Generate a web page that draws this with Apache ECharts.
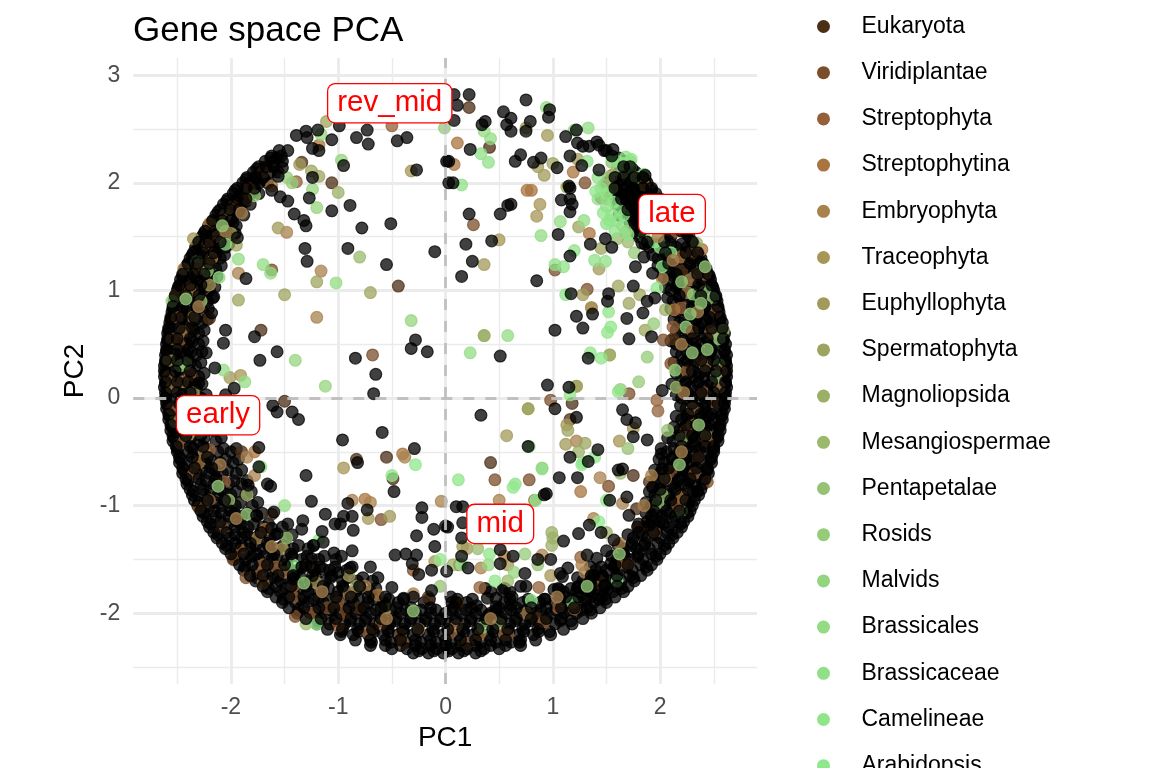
<!DOCTYPE html>
<html><head><meta charset="utf-8">
<script src="https://cdn.jsdelivr.net/npm/echarts@6/dist/echarts.min.js"></script>
<style>html,body{margin:0;padding:0;background:#fff}#c{width:1152px;height:768px}</style></head>
<body><div id="c"></div>
<script>
const majorX=[-2,-1,0,1,2];
const minorX=[-2.5,-1.5,-0.5,0.5,1.5,2.5];
const majorY=[-2,-1,0,1,2,3];
const minorY=[-2.5,-1.5,-0.5,0.5,1.5,2.5];
const cladeNames=["Eukaryota","Viridiplantae","Streptophyta","Streptophytina","Embryophyta","Traceophyta","Euphyllophyta","Spermatophyta","Magnoliopsida","Mesangiospermae","Pentapetalae","Rosids","Malvids","Brassicales","Brassicaceae","Camelineae","Arabidopsis"];
const cladeColors=["#4b2e14","#7a4e2a","#93603a","#a8743f","#a8824d","#a69657","#a29a5a","#9da45f","#9caf67","#9bb96d","#97c273","#96cb79","#95d47e","#93dc83","#90e088","#90e58a","#90e88c"];
const labelNames=["rev_mid","late","early","mid"];
const labelX=[-0.52,2.11,-2.12,0.51];
const labelY=[2.74,1.71,-0.16,-1.17];

// dark (unnamed root clade) scattered inside the ring
const rootInner=[[-.99,2.53],[-.83,2.42],[-.73,2.49],[-.72,2.36],[-.45,2.39],[-.36,2.42],[-1.06,2.4],[-1.29,2.42],[-1.3,2.48],[-1.39,2.44],[-1.19,2.49],[-1.24,2.32],[-1.18,2.3],[-.95,2.16],[-1.52,2.14],[-1.56,2.06],[-1.24,2.05],[-1.62,1.93],[-1.54,1.87],[-1.47,1.83],[-1.41,1.71],[-1.32,1.65],[-1.3,1.6],[-1.27,1.86],[-1.06,1.74],[-.89,1.79],[-.78,1.58],[-.51,1.62],[-.27,2.12],[.01,2.2],[.03,2],[-1.31,1.39],[-.91,1.39],[-1.29,1.27],[-.55,1.24],[-.1,1.36],[-1.86,1.11],[-1.94,1.49],[-2.05,.63],[-2.07,.51],[-1.78,.57],[-1.57,.43],[-1.73,.35],[-.84,.37],[-.65,.22],[-.32,.46],[-.28,.54],[-.17,.43],[-.67,.04],[-2.15,.28],[-2.3,.14],[-1.97,.09],[-2.05,.03],[-2.16,.94],[-2.18,.79],[-2.23,.42],
[.08,2.82],[.22,2.82],[.11,2.72],[.08,2.58],[.37,2.57],[.34,2.54],[.54,2.66],[.61,2.6],[.57,2.54],[.61,2.48],[.75,2.77],[.79,2.57],[.75,2.48],[.97,2.68],[.96,2.61],[1.12,2.43],[1.22,2.49],[1.23,2.37],[1.28,2.34],[1.34,2.34],[1.41,2.38],[1.43,2.35],[1.48,2.3],[1.56,2.31],[.23,2.31],[.7,2.26],[.65,2.2],[.82,2.19],[.89,2.23],[1.04,2.14],[1.16,2.25],[1.27,2.16],[1.43,2.12],[.07,2],[1.15,1.97],[1.16,1.95],[1.08,1.84],[1.16,1.85],[1.18,1.8],[1.16,1.73],[.61,1.8],[.58,1.79],[.22,1.71],[.51,1.71],[1.05,1.52],[.19,1.43],[.43,1.46],[.25,1.27],[.15,1.13],[.85,1.09],[1.16,1.32],[1.35,1.43],[1.55,1.4],[1.49,1.48],[1.77,1.22],[1.75,1.04],[1.17,.97],[1.52,.97],[1.51,.9],[1.88,.9],[1.84,.79],[1.95,.93],[1.22,.76],[1.37,.78],[1.69,.74],[1.28,.65],[1.02,.63],[1.71,.55],[1.92,.57],[.51,.39],[1.33,.37],[.95,.12],[1.15,.1],[2.02,.07],[.03,2.2],[1.86,2.07],[1.83,1.44],[1.85,1.31],[1.93,1.16],
[-1.61,-.07],[-1.57,-.13],[-1.43,-.13],[-1.37,-.2],[-.59,-.32],[-.96,-.39],[-.29,-.47],[-.82,-.6],[-1.74,-.46],[-1.74,-.64],[-1.3,-.72],[-1.84,-.81],[-1.63,-.82],[-1.66,-.8],[-.48,-.87],[-1.25,-.96],[-.91,-.98],[-.22,-1.02],[-.22,-1.11],[-.73,-1.04],[-1.12,-1.08],[-.87,-1.1],[-.95,-1.1],[-1.03,-1.17],[-.98,-1.17],[-1.33,-1.14],[-.86,-1.23],[-1.34,-1.22],[-1.15,-1.24],[-.27,-1.28],[-.11,-1.22],[0,-1.19],[-.1,-1.38],[-.87,-1.42],[-1.04,-1.44],[-1.14,-1.34],[-1.23,-1.37],[-.37,-1.45],[-.47,-1.46],[-.27,-1.46],[-.31,-1.54],[-.13,-1.6],[.01,-1.61],[-.25,-1.64],[-.5,-1.76],[-.3,-1.85],[-.13,-1.79],[-.39,-1.86],[-.56,-1.93],[-.7,-1.57],[-.89,-1.58],[-1,-1.62],[-1.14,-1.59],[-1.25,-1.49],[-1.25,-1.57],[-1.34,-1.57],[-1.42,-1.68],[-1.6,-1.06],[-1.62,-1.21],[-1.76,-1.09],[-1.57,-1.26],
[.33,-.16],[1.02,-.1],[1.65,-.11],[1.69,-.2],[1.77,-.23],[1.22,-.18],[.77,-.45],[1.16,-.55],[1.33,-.59],[1.42,-.48],[1.75,-.36],[1.88,-.39],[2.01,-.52],[1.06,-.74],[1.23,-.74],[1.61,-.67],[1.65,-.66],[1.93,-.83],[2.02,-.66],[.94,-.89],[.92,-.9],[.1,-1.01],[.16,-1.01],[1.69,-.92],[1.53,-.95],[.02,-1.2],[.16,-1.16],[.15,-1.3],[1.34,-1.18],[1.24,-1.26],[1.45,-1.25],[1.1,-1.33],[1.57,-1.32],[1.5,-1.42],[1.32,-1.46],[1.41,-1.49],[1.54,-1.54],[1.79,-1.2],[1.9,-1.18],[1.71,-1.09],[.51,-1.41],[.63,-1.47],[.86,-1.5],[.98,-1.5],[.51,-1.54],[.15,-1.47],[.21,-1.58],[.74,-1.63],[.7,-1.75],[.75,-1.75],[1.07,-1.63],[1.09,-1.66],[1.14,-1.58],[1.38,-1.65],[1.35,-1.7],[1.23,-1.76],[1.01,-1.78],[1.06,-1.78],[1.34,-1.79],[1.49,-1.74],[.53,-1.79],[.47,-1.86],[.39,-1.86],[.61,-1.92],[.92,-1.87],[.1,-1.9],[.29,-1.93],[.47,-1.94],[.4,-2.02]];

// dense ring, read row by row: first number is PC2, the rest PC1
const rootRingUnder=[[2.3,-1.55,-1.47,1.5],[2.2,-1.68,-1.6,-1.52,1.6,1.67],[2.1,-1.79,-1.72,-1.63,-1.56,1.62,1.7,1.77],[2,-1.89,-1.82,-1.74,-1.66,1.5,1.6,1.72,1.8,1.88],[1.9,-1.98,-1.9,-1.82,-1.74,1.55,1.63,1.7,1.78,1.88,1.96],[1.8,-2.07,-1.99,-1.9,-1.82,1.6,1.68,1.76,1.85,2.05],[1.7,-2.14,-2.06,-1.97,-1.88,1.62,1.72,1.8,2.1],[1.6,-2.21,-2.12,-2.03,-1.95,1.75,2.2],[1.5,-2.27,-2.18,-2.1,-2,1.8,2.1,2.27],[1.4,-2.33,-2.24,-2.15,-2.05,1.9,2,2.15,2.25,2.33],[1.3,-2.38,-2.3,-2.2,-2.1,1.98,2.08,2.18,2.3,2.38],[1.2,-2.43,-2.34,-2.25,-2.14,2.02,2.12,2.22,2.33,2.43],[1.1,-2.47,-2.38,-2.28,-2.18,2.08,2.18,2.28,2.38,2.47],[1,-2.5,-2.4,-2.3,-2.2,2.1,2.2,2.3,2.4,2.5],[.9,-2.53,-2.44,-2.33,-2.22,2.12,2.23,2.34,2.44,2.53],[.8,-2.55,-2.46,-2.36,-2.26,2.15,2.25,2.36,2.46,2.55],[.7,-2.57,-2.48,-2.38,-2.27,2.18,2.28,2.38,2.48,2.58],[.6,-2.59,-2.5,-2.4,-2.3,2.2,2.3,2.4,2.5,2.6],[.5,-2.6,-2.51,-2.41,-2.3,2.15,2.26,2.38,2.5,2.61],[.4,-2.61,-2.52,-2.42,-2.32,2.2,2.3,2.4,2.52,2.62],[.3,-2.62,-2.53,-2.43,-2.33,2.18,2.28,2.4,2.52,2.62],[.2,-2.62,-2.52,-2.42,-2.3,2.2,2.32,2.42,2.53,2.62],[.1,-2.62,-2.52,-2.4,-2.32,2.16,2.28,2.4,2.52,2.62],[0,-2.61,-2.5,-2.4,-2.28,2.2,2.3,2.42,2.52,2.61],[-.1,-2.6,-2.5,-2.38,-2.28,2.24,2.36,2.48,2.6],[-.2,-2.58,-2.47,-2.36,-2.22,2.2,2.3,2.42,2.5,2.58],[-.3,-2.56,-2.45,-2.32,-2.18,2.18,2.28,2.38,2.48,2.56],[-.4,-2.54,-2.42,-2.3,-2.14,2.12,2.24,2.34,2.44,2.54],[-.5,-2.5,-2.4,-2.28,-2.12,-2,2.06,2.18,2.3,2.42,2.5],[-.6,-2.48,-2.36,-2.24,-2.1,-1.98,2.04,2.16,2.28,2.38,2.48],[-.7,-2.45,-2.32,-2.2,-2.08,-1.95,2,2.14,2.26,2.36,2.45],[-.8,-2.41,-2.28,-2.16,-2.02,-1.9,2,2.12,2.22,2.32,2.4],[-.9,-2.36,-2.24,-2.12,-2,-1.86,1.95,2.08,2.2,2.36],[-1,-2.31,-2.2,-2.08,-1.96,-1.8,1.92,2.04,2.16,2.3],[-1.1,-2.26,-2.14,-2.02,-1.9,-1.76,1.92,2.02,2.14,2.26],[-1.2,-2.2,-2.08,-1.96,-1.84,-1.7,-1.52,1.85,1.98,2.08,2.2],[-1.3,-2.13,-2.01,-1.9,-1.78,-1.64,-1.48,1.75,1.88,2,2.12],[-1.4,-2.05,-1.95,-1.82,-1.7,-1.56,-1.42,-1.28,1.66,1.78,1.9,2.05],[-1.5,-1.97,-1.86,-1.74,-1.62,-1.48,-1.34,-1.18,-1.02,1.6,1.72,1.84,1.97],[-1.6,-1.88,-1.76,-1.64,-1.52,-1.38,-1.22,-1.08,-.92,1.4,1.5,1.62,1.74,1.88],[-1.7,-1.77,-1.66,-1.54,-1.4,-1.26,-1.12,-.96,-.82,-.68,1.28,1.4,1.52,1.64,1.76],[-1.8,-1.66,-1.54,-1.42,-1.28,-1.14,-1,-.84,-.7,.42,.6,1.1,1.22,1.34,1.46,1.56,1.66],[-1.9,-1.52,-1.4,-1.28,-1.14,-1,-.86,-.72,-.58,-.44,-.2,.06,.2,.55,.72,.88,1.02,1.14,1.26,1.38,1.5],[-2,-1.38,-1.26,-1.12,-.98,-.84,-.7,-.56,-.42,-.28,-.14,0,.14,.28,.42,.56,.7,.84,.98,1.1,1.22,1.36],[-2.1,-1.2,-1.08,-.94,-.8,-.66,-.52,-.38,-.24,-.1,.04,.18,.32,.46,.6,.74,.88,1.02,1.18],[-2.2,-.98,-.86,-.72,-.58,-.44,-.3,-.16,-.02,.12,.26,.4,.54,.68,.82,.98],[-2.3,-.7,-.56,-.42,-.28,-.14,0,.14,.28,.42,.56,.7],[-2.37,-.3,-.16,-.02,.12,.28]];
const rootRingMid=[[2.23,-1.63,-1.57,1.62],[2.13,-1.76,-1.68,1.67,1.74],[2.03,-1.86,-1.78,-1.69,1.55,1.65,1.76,1.86],[1.93,-1.96,-1.86,-1.78,1.6,1.67,1.74,1.83,1.92],[1.83,-2.04,-1.95,-1.86,1.65,1.72,1.81,1.95,2.03],[1.73,-2.12,-2.02,-1.93,1.66,1.76,1.84,2.12],[1.63,-2.18,-2.08,-1.98,1.72,1.8,2.18],[1.53,-2.25,-2.14,-2.05,-1.96,1.78,2.08,2.25],[1.43,-2.31,-2.2,-2.1,-2.02,1.86,1.96,2.1,2.2,2.31],[1.33,-2.36,-2.25,-2.14,-2.06,1.93,2.03,2.13,2.25,2.36],[1.23,-2.41,-2.3,-2.2,-2.09,1.98,2.07,2.17,2.28,2.41],[1.13,-2.45,-2.33,-2.23,-2.13,2.03,2.13,2.23,2.34,2.46],[1.03,-2.49,-2.35,-2.25,-2.15,2.05,2.15,2.25,2.35,2.49],[.93,-2.52,-2.39,-2.28,-2.17,2.07,2.18,2.29,2.39,2.52],[.83,-2.54,-2.41,-2.31,-2.21,2.1,2.2,2.31,2.41,2.54],[.73,-2.56,-2.43,-2.33,-2.22,2.13,2.23,2.33,2.43,2.56],[.63,-2.58,-2.45,-2.35,-2.25,2.15,2.25,2.35,2.45,2.58],[.53,-2.59,-2.46,-2.36,-2.26,2.1,2.21,2.33,2.45,2.59],[.43,-2.6,-2.47,-2.37,-2.27,2.15,2.25,2.35,2.47,2.6],[.33,-2.61,-2.48,-2.38,-2.28,2.13,2.23,2.35,2.47,2.61],[.23,-2.61,-2.47,-2.37,-2.25,2.15,2.27,2.37,2.48,2.61],[.13,-2.61,-2.47,-2.35,-2.27,2.11,2.23,2.35,2.47,2.61],[.03,-2.6,-2.45,-2.35,-2.23,2.15,2.25,2.37,2.47,2.6],[-.07,-2.59,-2.45,-2.33,-2.23,2.19,2.31,2.43,2.59],[-.17,-2.57,-2.42,-2.31,-2.17,2.15,2.25,2.37,2.45,2.57],[-.27,-2.55,-2.4,-2.27,-2.13,2.13,2.23,2.33,2.43,2.55],[-.37,-2.53,-2.37,-2.25,-2.09,2.07,2.19,2.29,2.39,2.53],[-.47,-2.5,-2.35,-2.23,-2.07,-1.95,2.01,2.13,2.25,2.37,2.5],[-.57,-2.47,-2.31,-2.19,-2.05,-1.93,1.99,2.11,2.23,2.33,2.47],[-.67,-2.44,-2.27,-2.15,-2.03,-1.9,1.95,2.09,2.21,2.31,2.44],[-.77,-2.4,-2.23,-2.11,-1.97,-1.85,1.95,2.07,2.17,2.27,2.39],[-.87,-2.35,-2.19,-2.07,-1.95,-1.81,1.9,2.03,2.15,2.31,2.35],[-.97,-2.3,-2.15,-2.03,-1.91,-1.75,1.87,1.99,2.11,2.27],[-1.07,-2.25,-2.09,-1.97,-1.85,-1.71,1.87,1.97,2.09,2.25],[-1.17,-2.19,-2.03,-1.91,-1.79,-1.65,-1.47,1.8,1.93,2.03,2.19],[-1.27,-2.12,-1.96,-1.85,-1.73,-1.59,-1.43,1.7,1.83,1.95,2.11],[-1.37,-2.04,-1.9,-1.77,-1.65,-1.51,-1.37,-1.23,1.61,1.73,1.85,2.04],[-1.47,-1.96,-1.81,-1.69,-1.57,-1.43,-1.29,-1.13,-.97,1.55,1.67,1.79,1.96],[-1.57,-1.87,-1.71,-1.59,-1.47,-1.33,-1.17,-1.03,-.87,1.35,1.45,1.57,1.69,1.87],[-1.67,-1.76,-1.61,-1.49,-1.35,-1.21,-1.07,-.91,-.77,-.63,1.23,1.35,1.47,1.59,1.75],[-1.77,-1.65,-1.49,-1.37,-1.23,-1.09,-.95,-.79,-.65,.37,.55,1.05,1.17,1.29,1.41,1.51,1.64],[-1.87,-1.51,-1.35,-1.23,-1.09,-.95,-.81,-.67,-.53,-.39,-.15,.11,.25,.6,.77,.93,1.07,1.19,1.31,1.43,1.49],[-1.97,-1.37,-1.21,-1.07,-.93,-.79,-.65,-.51,-.37,-.23,-.09,.05,.19,.33,.47,.61,.75,.89,1.03,1.15,1.27,1.35],[-2.07,-1.19,-1.03,-.89,-.75,-.61,-.47,-.33,-.19,-.05,.09,.23,.37,.51,.65,.79,.93,1.07,1.17],[-2.17,-.97,-.81,-.67,-.53,-.39,-.25,-.11,.03,.17,.31,.45,.59,.73,.87,.97],[-2.27,-.69,-.51,-.37,-.23,-.09,.05,.19,.33,.47,.61,.69],[-2.35,-.25,-.11,.03,.17,.33]];
const rootRingOver=[[2.25,-1.62,-1.53,1.55],[2.15,-1.74,-1.67,-1.6,1.66,1.72],[2.05,-1.85,-1.77,-1.7,1.58,1.66,1.76,1.84],[1.95,-1.94,-1.86,-1.78,1.58,1.68,1.75,1.84,1.92],[1.85,-2.03,-1.94,-1.86,1.64,1.73,1.8,1.9,2],[1.75,-2.1,-2.01,-1.92,1.7,1.78,2.08],[1.65,-2.17,-2.08,-2,1.78,2.14],[1.55,-2.24,-2.15,-2.05,1.82,2.2,2.24],[1.45,-2.3,-2.2,-2.1,1.88,2.04,2.3],[1.35,-2.35,-2.26,-2.16,2.05,2.24,2.35],[1.25,-2.4,-2.31,-2.2,2.08,2.28,2.4],[1.15,-2.45,-2.35,-2.25,2.15,2.35,2.45],[1.05,-2.48,-2.38,-2.28,2.16,2.36,2.48],[.95,-2.52,-2.42,-2.3,2.18,2.38,2.52],[.85,-2.54,-2.45,-2.32,2.3,2.42,2.54],[.75,-2.56,-2.46,-2.34,2.34,2.46,2.56],[.65,-2.58,-2.48,-2.36,2.36,2.48,2.58],[.55,-2.59,-2.5,-2.38,2.3,2.44,2.59],[.45,-2.6,-2.5,-2.4,2.35,2.48,2.6],[.35,-2.61,-2.5,-2.4,2.25,2.38,2.5,2.61],[.25,-2.62,-2.52,-2.38,2.3,2.42,2.52,2.62],[.15,-2.61,-2.5,-2.4,2.24,2.36,2.48,2.61],[.05,-2.61,-2.5,-2.38,2.26,2.38,2.5,2.61],[-.05,-2.6,-2.48,-2.36,2.3,2.42,2.54,2.6],[-.15,-2.58,-2.46,-2.34,2.26,2.38,2.48,2.58],[-.25,-2.56,-2.44,-2.3,2.24,2.34,2.46,2.56],[-.35,-2.54,-2.42,-2.28,2.18,2.3,2.42,2.54],[-.45,-2.51,-2.38,-2.26,2.2,2.32,2.42,2.5],[-.55,-2.48,-2.36,-2.22,2.12,2.24,2.36,2.48],[-.65,-2.45,-2.34,-2.18,2.08,2.22,2.34,2.44],[-.75,-2.42,-2.3,-2.14,2.04,2.18,2.28,2.42],[-.85,-2.38,-2.26,-2.1,2,2.14,2.26,2.38],[-.95,-2.34,-2.22,-2.06,1.96,2.1,2.24,2.32],[-1.05,-2.28,-2.16,-2,1.94,2.06,2.18,2.28],[-1.15,-2.22,-2.1,-1.94,1.88,2,2.12,2.22],[-1.25,-2.16,-2.04,-1.88,-1.72,1.8,1.94,2.06,2.16],[-1.35,-2.08,-1.96,-1.82,-1.66,1.74,1.86,1.98,2.08],[-1.45,-2,-1.88,-1.76,-1.6,-1.44,1.66,1.8,1.92,2],[-1.55,-1.92,-1.8,-1.66,-1.5,-1.3,1.58,1.7,1.82,1.92],[-1.65,-1.82,-1.7,-1.56,-1.42,-1.24,-1.06,1.36,1.46,1.6,1.72,1.82],[-1.75,-1.7,-1.58,-1.44,-1.3,-1.14,-.96,-.8,1.24,1.36,1.48,1.6,1.7],[-1.85,-1.58,-1.46,-1.32,-1.18,-1.02,-.88,-.72,-.56,.05,.62,1.12,1.24,1.36,1.46,1.58],[-1.95,-1.46,-1.32,-1.18,-1.04,-.9,-.76,-.6,-.46,-.32,-.14,.08,.24,.5,.66,.8,.94,1.08,1.2,1.32,1.44],[-2.05,-1.3,-1.16,-1.02,-.88,-.74,-.6,-.46,-.32,-.18,-.04,.1,.24,.38,.52,.66,.8,.94,1.08,1.28],[-2.15,-1.1,-.96,-.82,-.68,-.54,-.4,-.26,-.12,.02,.16,.3,.44,.58,.72,.86,1.1],[-2.25,-.84,-.7,-.56,-.42,-.28,-.14,0,.14,.28,.42,.56,.7,.84],[-2.33,-.5,-.36,-.22,-.08,.06,.2,.36,.5]];

// named clades, read point by point
const euk=[[-1.34,2.19],[-1.06,2],[-.44,1.04],[-1.72,.63],[-1.5,-.03],[.22,2.7],[.41,2.33],[-.55,-.55],[-.83,-.57],[.42,-.6],[1.16,-.2],[1.75,-.72],[1.78,-1.03],[1.18,-.05],[-.49,-.75],[-.16,-1.85],[.11,-1.9],[2.12,.55],[2.2,1.18],[-2.4,.62],[-2.2,.74],[-1.62,-1.08],[-1.9,-.5],[-.8,-1.95],[.85,-2.05],[1.9,-.78]];
const viridi=[[-.68,.4],[-1.62,1.19],[.26,1.61],[1.3,2],[1.45,1.86],[1.02,1.19],[1.32,1.01],[2.03,.54],[.98,-.02],[1.71,.04],[.46,-.76],[.78,-.76],[-.6,-1.13],[-.3,-1.6],[1.52,-.82],[-1.4,-2.03],[-1.1,-1.95],[-.95,-2],[-1.86,-1.67],[-1.98,-1.5],[-2.3,-1.02],[2.1,-.68],[2.24,-.3],[2.38,.35],[2.1,.32],[2.44,-.78],[-2.4,1.02],[-2.2,1.25],[-1.85,1.85],[-.42,-2.2]];
const strepta=[[-.5,2.53],[-1.39,2.01],[.83,-.95],[.13,-1.55],[.32,-1.76],[.87,-1.76],[1.26,-1.48],[1.65,-1.53],[1.98,-.12],[1.97,-.02],[2.12,.66],[2.47,.62],[-2.38,.22],[-2.48,.52],[-2.2,-.48],[-2.06,-.78],[-1.7,-1.55],[-1.58,-1.57],[-1.42,-1.75],[-1,-1.9],[-.6,-2.1],[.05,-2.18],[.55,-2.2],[1.05,-1.95],[1.8,-1.2],[2.36,-.55],[2.2,.84]];
const streptina=[[-1.18,2.35],[.11,2.37],[.08,2.17],[1.19,2.1],[.76,1.93],[.8,1.93],[1.34,1.53],[1.36,.84],[1.85,1.98],[2.19,1.31],[2.39,1.38],[2.13,.82],[-.75,-.94],[-.4,-.52],[.55,-1.47],[1.26,-.87],[2.2,-.92],[2.3,-.25],[-2.2,1.62],[-1.62,1.97],[-2.52,.95],[-2.25,-.22],[-1.78,-.5],[-2.3,-.6],[-1.68,-1.22],[-1.7,-1.72],[-1.28,-1.55],[-.63,-1.83],[.32,-2.2]];
const embryo=[[-1.48,1.54],[-1.16,1.18],[-1.93,1.16],[-1.2,.75],[2.02,1.11],[1.55,2.07],[.33,-1.58],[.5,-.95],[.9,-1.46],[1.27,-1.55],[1.44,-.74],[1.22,-.4],[1.65,-.98],[1.92,-.72],[-.87,-.95],[-.7,-.97],[-.38,-.55],[-.04,-.96],[-1.85,-.55],[-1.78,-.72],[-2.35,.75],[-2.44,1.2],[-2.12,1.5],[-2.55,.1],[-2.1,-.1],[2.25,.98],[2.35,1.15],[2.55,.1],[1.38,-1.12],[-.75,-1.75],[-.3,-1.82]];
const tracheo=[[-.32,2.11],[-1.91,.21],[.85,1.69],[.88,1.8],[.5,1.47],[1.22,.11],[1.53,.4],[1.36,.84],[.77,-.1],[1.13,-.25],[1.62,-.4],[.58,-1.55],[-.1,-1.52],[-.95,-.65],[-1.2,-1.72],[-2.58,.35],[-2.35,1.48],[-2.2,1.05],[-2.4,-.35],[-1.52,-1.4],[2.43,-.35],[2.5,.6],[.98,-1.65],[1.75,-.28]];
const euphy=[[-1.56,1.58],[-1.36,2.17],[-2.01,.19],[.36,1.24],[.95,2.44],[.86,2.15],[.92,2.07],[.75,2.51],[1.43,1.2],[1.28,.96],[1.23,2.22],[.57,-.35],[1.12,-.43],[-.72,-1.12],[-.52,-1.1],[-.9,-1.65],[.16,-1.38],[.2,-1.4],[-2.35,.05],[-2.52,-.22],[-2.05,1.7]];
const sperma=[[-1.25,2.11],[-1.18,2.06],[-1.11,2.57],[-1.2,1.08],[-.7,.98],[-1.5,.96],[-1.93,.91],[-2,1.53],[-1.95,1.42],[1,2.18],[1.13,1.96],[1.24,1.59],[1.45,1.39],[1.61,1.04],[1.71,.88],[1.81,.96],[1.86,.63],[1.22,.11],[.77,-.1],[1.14,-.3],[1.3,-.42],[-.83,-1.75],[-.55,-1.95]];
const magno=[[-1,1.91],[.36,.58],[.36,.58],[1.53,.4],[.99,-1.25],[1,-1.3],[.99,-1.37],[1.24,-.5],[1.5,-1.25],[-1.93,-.2],[-1.85,-.9],[.07,-1.55],[.5,-2.1],[2.34,1.44],[2.05,.82]];
const meso=[[-.8,1.31],[1.55,1.95],[1.48,1.98],[1.5,1.85],[1.65,2.1],[1.7,1.45],[1.68,1.55],[1.6,1.48],[.3,-1.4],[.58,-1.7],[1.63,-.7],[2.02,-.9],[2.15,.1],[2.2,-.38],[2.59,.63],[-2.02,-.95],[-1.3,-2.1]];
const penta=[[1.72,2.2],[1.78,2.05],[1.55,2.19],[1.6,2.12],[1.52,2.05],[.86,-1.55],[-.05,-1.75],[1.7,-.47],[2.07,-.3],[2.2,-1.05],[-2.32,1.27],[-2.28,.9],[-1.48,-1.3]];
const rosids=[[-.01,2.51],[-1.48,2.05],[-1.43,2],[1.94,.69],[1.88,.38],[1.8,.15],[1.63,.08],[1.76,1.35],[2.42,.99],[2.49,.93],[.9,-.65],[.74,-1.45]];
const malvids=[[-.97,2.21],[-1.16,2.45],[-1.24,1.94],[-1.2,1.77],[-.32,.72],[-1.4,.35],[-1.12,.11],[.4,-1.55],[.64,-1.62],[-2.55,.9],[-2.47,.3],[2.31,.96],[2.24,.66],[2.14,.26],[2.55,.31]];
const brassicales=[[-1.7,1.24],[-1.63,1.16],[-1.93,1.29],[-1.02,1.07],[.94,2.7],[1.33,2.51],[1.2,2.49],[.36,2.48],[.42,2.41],[1.07,1.64],[1.29,1.65],[.89,1.51],[.58,.58],[.23,.42],[-2.05,1.43],[-2.11,1.12],[-2.07,.26],[-1.87,.15],[-1.72,-.64],[-1.5,-1]];
const brassica=[[1.45,1.95],[1.42,1.85],[1.5,1.78],[1.55,1.7],[1.6,1.65],[1.5,1.62],[1.58,1.55],[1.65,1.6],[1.7,1.52],[1.42,2.05],[1.6,2.2],[.33,2.27],[.4,2.19],[.15,1.98],[1.32,2.2],[1.2,1.37],[1.39,1.28],[1.49,1.27],[1.02,1.24],[1.1,1.22],[.78,-.45],[.65,-.8],[.9,-.66],[1.28,-.6]];
const camelineae=[[1.65,2.18],[1.72,2.15],[1.55,2.23],[1.68,2.24],[1.73,2.22],[1.47,1.72],[1.53,1.65],[1.62,1.75],[1.57,1.82],[1.66,1.7],[1.4,1.92],[1.5,1.9],[1.85,2.08],[1.12,.96],[1.52,.8],[1.54,.66],[1.51,.61],[1.35,.42],[1.45,.37],[1.61,.06],[1.16,.03],[1.97,1.02],[.12,-.76],[.41,-1.45],[.15,-1.55],[.46,-1.7]];
const arabidopsis=[[1.85,1.5],[1.95,1.45],[2,1.4],[2.1,1.35],[2.02,1.22],[.63,-.83],[.84,-.95],[1.27,-.62],[1.39,-.55],[1.5,-.95],[1.43,-1.15],[1.6,-1.7],[.8,-1.88],[1.18,-1.9],[-1.18,-1.32],[-1.42,-1.55],[-.5,-.72],[-.28,-.62],[-1.2,-2.1],[-.05,-1.5]];
const cladePoints=[euk,viridi,strepta,streptina,embryo,tracheo,euphy,sperma,magno,meso,penta,rosids,malvids,brassicales,brassica,camelineae,arabidopsis];

// coloured points on the ring: some under the top dark layer, a few above it
const ringBrown=[[-2.5,.75],[-2.42,.95],[-2.3,1.2],[-2.22,1.42],[-2.1,1.62],[-1.98,1.78],[-1.83,1.95],[-1.7,2.1],[-2.55,.55],[-2.58,.2],[-2.55,-.1],[-2.47,-.42],[-2.35,-.7],[-2.2,-.95],[-2.08,-1.2],[-1.9,-1.42],[-1.72,-1.62],[-1.42,-1.85],[-1.25,-2],[-1,-2.12],[-.72,-2.18],[-.4,-2.28],[.2,-2.28],[.58,-2.2],[.92,-2.08],[1.2,-1.96],[1.45,-1.72],[1.7,-1.55],[1.95,-1.25],[2.16,-1],[2.32,-.7],[2.44,-.4],[2.52,-.05],[2.57,.25],[2.4,.05],[2.25,.25],[2.3,.62],[2.52,.8],[2.42,1.15],[2.3,1.35],[2.15,1.55]];
const topTan=[[-2.3,.85],[-2.05,1.55],[-1.9,1.72],[-2.4,-.2],[-1.95,-1.12],[-1.62,-1.38],[-1.15,-1.8],[-.55,-2.05],[.42,-2.05],[1.04,-1.85],[1.85,-1],[2.2,-.5],[2.22,.05],[2.35,.8],[2.12,1.28],[1.98,1.5]];
const ringTan=[[-2.36,1],[-2.45,.62],[-2.18,1.3],[-2.45,.15],[-2.25,-.5],[-2.1,-.62],[-1.75,-1.3],[-1.5,-1.62],[-.9,-1.82],[-.25,-2.15],[.1,-2.12],[.75,-2],[1.3,-1.62],[1.62,-1.35],[2.05,-.75],[2.3,-.1],[2.42,.3],[2.2,.5],[2.28,1.1]];
const topGreen=[[2.38,.88],[2.28,.78],[2.44,.45],[2.3,.42],[2.2,1.08],[2.42,1.22],[2.36,-.25],[2.18,-.62],[1.62,-1.45],[1.32,-1.75],[-.3,-1.98],[-1.32,-1.72],[-2.12,-.82],[-2.42,.92],[-2.08,1.6]];
const ringGreen=[[2.55,.55],[2.52,.2],[1.98,-.98],[.35,-2.13],[-1.85,-1.08],[-2.3,-.32],[-2.42,.32],[-2.22,1.18],[-1.78,1.88]];

function expandRows(rows){const out=[];rows.forEach(r=>{for(let i=1;i<r.length;i++)out.push([r[i],r[0]]);});return out;}
function rgba(hex,a){const n=parseInt(hex.slice(1),16);return `rgba(${n>>16},${(n>>8)&255},${n&255},${a})`;}
const ALPHA=0.75;
function pointSeries(name,data,color){return {type:'scatter',name,data,symbol:'circle',symbolSize:11.8,silent:true,
  itemStyle:{opacity:1,color:rgba(color,ALPHA),borderColor:rgba(color,ALPHA),borderWidth:1.2}};}

const series=[];
series.push(pointSeries('root',expandRows(rootRingUnder).concat(expandRows(rootRingMid)),'#000000'));
cladeNames.forEach((n,i)=>series.push(pointSeries(n,cladePoints[i],cladeColors[i])));
series.push(pointSeries('Streptophyta',ringBrown,cladeColors[2]));
series.push(pointSeries('Embryophyta',ringTan,cladeColors[4]));
series.push(pointSeries('Rosids',ringGreen,cladeColors[11]));
series.push(pointSeries('root top',expandRows(rootRingOver).concat(rootInner),'#000000'));
series.push(pointSeries('Embryophyta',topTan,cladeColors[4]));
series.push(pointSeries('Rosids',topGreen,cladeColors[11]));
series.push({type:'scatter',name:'refs',data:[],silent:true,z:5,
  markLine:{silent:true,symbol:'none',animation:false,label:{show:false},
    lineStyle:{color:'rgba(190,190,190,0.95)',width:2.8,type:[11,11]},
    data:[{xAxis:0},{yAxis:0}]}});
series.push({type:'scatter',name:'notes',silent:true,z:20,symbolSize:1,itemStyle:{color:'rgba(0,0,0,0)',opacity:1},
  data:labelNames.map((n,i)=>({name:n,value:[labelX[i],labelY[i]]})),
  label:{show:true,position:'inside',formatter:p=>p.name,color:'#ff0000',opacity:1,fontFamily:'Liberation Sans',fontSize:29.5,lineHeight:30,
    backgroundColor:'#fff',borderColor:'#ff0000',borderWidth:1.3,borderRadius:7,padding:[7,9,1,9]}});

const FF='Liberation Sans';
const XR={min:-2.91,max:2.903},YR={min:-2.658,max:3.16};
function hiddenAxis(range,vals,pos){return Object.assign({type:'value',position:pos,axisLine:{show:false},axisTick:{show:false,customValues:vals},axisLabel:{show:false},
   splitLine:{show:true,lineStyle:{color:'#ebebeb',width:1.4}}},range);}
const chart=echarts.init(document.getElementById('c'),null,{renderer:'canvas'});
chart.setOption({animation:false,backgroundColor:'#fff',
 title:{text:'Gene space PCA',left:133,top:14,padding:0,textStyle:{fontFamily:FF,fontSize:35,fontWeight:'normal',color:'#000'}},
 grid:{left:133.3,right:1152-757,top:58,bottom:768-684,containLabel:false},
 xAxis:[Object.assign({type:'value',name:'PC1',nameLocation:'middle',nameGap:40,nameTextStyle:{fontFamily:FF,fontSize:28,color:'#000'},
    axisLine:{show:false},axisTick:{show:false,customValues:majorX},
    axisLabel:{customValues:majorX,margin:12,fontFamily:FF,fontSize:23,color:'#4d4d4d'},
    splitLine:{show:true,lineStyle:{color:'#ebebeb',width:2.8}}},XR),hiddenAxis(XR,minorX,'top')],
 yAxis:[Object.assign({type:'value',name:'PC2',nameLocation:'middle',nameGap:36,nameTextStyle:{fontFamily:FF,fontSize:28,color:'#000'},
    axisLine:{show:false},axisTick:{show:false,customValues:majorY},
    axisLabel:{customValues:majorY,margin:13,padding:[4,0,0,0],fontFamily:FF,fontSize:23,color:'#4d4d4d'},
    splitLine:{show:true,lineStyle:{color:'#ebebeb',width:2.8}}},YR),hiddenAxis(YR,minorY,'right')],
 legend:{show:true,orient:'vertical',left:817,top:15,height:1200,
   data:cladeNames.map((n,i)=>({name:n,itemStyle:{color:cladeColors[i],borderWidth:0,opacity:1}})),
   icon:'circle',itemWidth:66,itemHeight:13,itemGap:23.2,selectedMode:false,padding:0,
   textStyle:{fontFamily:FF,fontSize:23,color:'#000'}},
 series});
</script></body></html>
